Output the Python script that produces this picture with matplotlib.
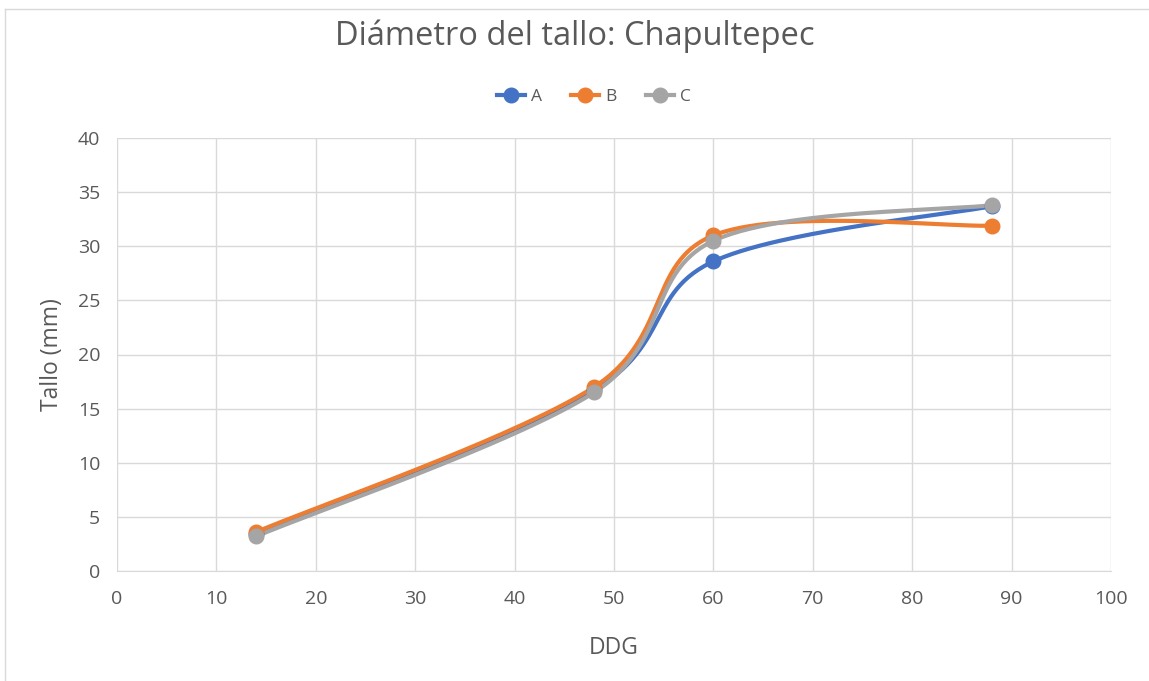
import numpy as np
import matplotlib
matplotlib.use("Agg")
import matplotlib.pyplot as plt
from matplotlib.lines import Line2D

plt.rcParams['font.family'] = ['Open Sans', 'DejaVu Sans']

ddg = [14, 48, 60, 88]
serie_a = [3.4, 16.7, 28.6, 33.7]
serie_b = [3.6, 17.0, 31.0, 31.9]
serie_c = [3.2, 16.5, 30.5, 33.8]
series = ["A", "B", "C"]
colores = ["#4472C4", "#ED7D31", "#A5A5A5"]
x_ticks = list(range(0, 101, 10))
y_ticks = list(range(0, 41, 5))

TXT = "#595959"


def suavizar(xs, ys, n=60):
    """Curva Bezier cubica por los puntos (suavizado tipo hoja de calculo)."""
    p = np.column_stack([xs, ys]).astype(float)
    pts = np.array([p[0]] + list(p) + [p[-1]])
    out = []
    for i in range(1, len(pts) - 2):
        p0, p1, p2, p3 = pts[i - 1], pts[i], pts[i + 1], pts[i + 2]
        c1 = p1 + (p2 - p0) / 6.0
        c2 = p2 - (p3 - p1) / 6.0
        t = np.linspace(0, 1, n)[:, None]
        seg = ((1 - t) ** 3) * p1 + 3 * ((1 - t) ** 2) * t * c1 + 3 * (1 - t) * t ** 2 * c2 + t ** 3 * p2
        out.append(seg if i == 1 else seg[1:])
    c = np.vstack(out)
    return c[:, 0], c[:, 1]


fig = plt.figure(figsize=(11.49, 6.81), dpi=100)
W, H = 1149, 681
ax = fig.add_axes([117 / W, 1 - 571 / H, (1111 - 117) / W, (571 - 138) / H])

for nombre, vals, col in zip(series, [serie_a, serie_b, serie_c], colores):
    sx, sy = suavizar(ddg, vals)
    ax.plot(sx, sy, color=col, lw=3.0, solid_capstyle='round', zorder=3)
    ax.plot(ddg, vals, 'o', color=col, ms=10.5, zorder=4)

ax.set_xlim(0, 100)
ax.set_ylim(0, 40)
ax.set_xticks(x_ticks)
ax.set_yticks(y_ticks)
ax.grid(True, color="#D9D9D9", lw=1)
ax.set_axisbelow(True)
for s in ["top", "right", "left"]:
    ax.spines[s].set_visible(False)
ax.spines["bottom"].set_color("#D9D9D9")
ax.tick_params(length=0, labelsize=14, labelcolor=TXT)
ax.tick_params(axis="x", pad=14)
ax.tick_params(axis="y", pad=12)
ax.set_xlabel("DDG", fontsize=16.5, color=TXT, labelpad=20)
ax.set_ylabel("Tallo (mm)", fontsize=16.5, color=TXT, labelpad=10)

fig.text(0.5, 1 - 36 / H, "Diámetro del tallo: Chapultepec", ha="center", va="center",
         fontsize=23.5, color=TXT)

handles = [Line2D([0], [0], color=c, lw=3.0, marker='o', ms=10.5) for c in colores]
fig.legend(handles, series, loc="center", bbox_to_anchor=(0.517, 1 - 97 / H), ncol=3,
           frameon=False, fontsize=12.5, labelcolor=TXT, handlelength=1.6,
           handletextpad=0.35, columnspacing=1.7)

# marco del area del grafico
fig.add_artist(Line2D([5 / W, 5 / W], [0, 1 - 9 / H], transform=fig.transFigure, color="#D9D9D9", lw=1))
fig.add_artist(Line2D([5 / W, 1], [1 - 9 / H, 1 - 9 / H], transform=fig.transFigure, color="#D9D9D9", lw=1))

fig.savefig("out.png", dpi=100)
